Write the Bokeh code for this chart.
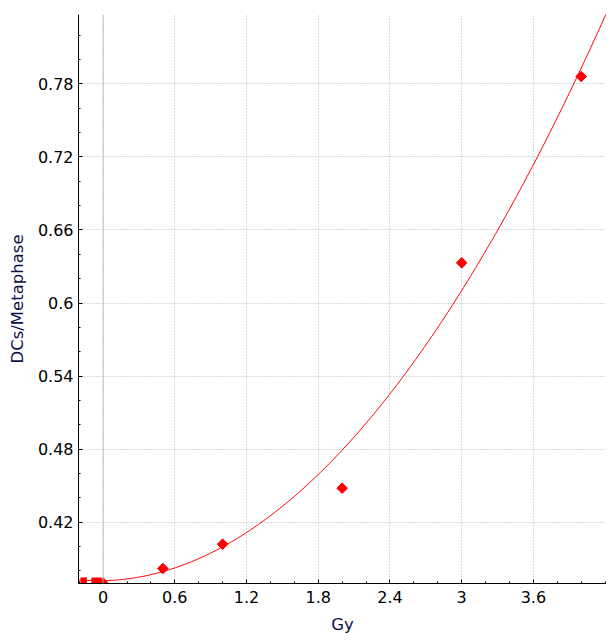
import numpy as np
from bokeh.plotting import figure
from bokeh.models import FixedTicker, CustomJSTickFormatter, Span, Range1d
from bokeh.embed import file_html
from bokeh.resources import INLINE

# data
dose = [0.0, 0.5, 1.0, 2.0, 3.0, 4.0]
dcs = [0.370, 0.382, 0.402, 0.448, 0.633, 0.786]

# fitted curve y = c + a*D + b*D^2 (coefficients)
fit_c = 0.372
fit_a = 0.002
fit_b = 0.0258

# red fragments at the bottom-left edge
frag_left = [-0.19, -0.098]
frag_right = [-0.135, -0.012]

x_ticks = [0, 0.6, 1.2, 1.8, 2.4, 3, 3.6]
y_ticks = [0.42, 0.48, 0.54, 0.6, 0.66, 0.72, 0.78]

x_lo, x_hi = -0.206, 4.212
y_lo, y_hi = 0.3697, 0.8369

p = figure(frame_width=528, frame_height=569, output_backend="svg", toolbar_location=None,
           x_range=Range1d(x_lo, x_hi), y_range=Range1d(y_lo, y_hi),
           min_border_left=78, min_border_right=0, min_border_top=14, min_border_bottom=40)
p.outline_line_color = None
p.background_fill_color = "white"
p.border_fill_color = "white"

fmt = CustomJSTickFormatter(code="return String(Math.round(tick*100)/100);")
xminor = [round(-0.2 + 0.2 * i, 2) for i in range(23)]
yminor = [round(0.36 + 0.02 * i, 2) for i in range(25)]
p.xaxis.ticker = FixedTicker(ticks=x_ticks, minor_ticks=xminor)
p.yaxis.ticker = FixedTicker(ticks=y_ticks, minor_ticks=yminor)
p.xaxis.formatter = fmt
p.yaxis.formatter = fmt

for ax in (p.xaxis[0], p.yaxis[0]):
    ax.axis_line_color = "black"
    ax.major_tick_line_color = "black"
    ax.minor_tick_line_color = "black"
    ax.major_tick_in = 4
    ax.major_tick_out = 0
    ax.minor_tick_in = 2
    ax.minor_tick_out = 0
    ax.major_label_text_font = "DejaVu Sans"
    ax.major_label_text_font_size = "16px"
    ax.major_label_text_color = "black"
    ax.axis_label_text_font = "DejaVu Sans"
    ax.axis_label_text_font_size = "16.5px"
    ax.axis_label_text_font_style = "normal"
    ax.axis_label_text_color = "#101048"

p.xaxis.axis_label = "Gy"
p.yaxis.axis_label = "DCs/Metaphase"
p.xaxis.major_label_standoff = 7
p.yaxis.major_label_standoff = 5
p.xaxis.axis_label_standoff = 9
p.yaxis.axis_label_standoff = 8

p.xgrid.ticker = FixedTicker(ticks=x_ticks)
p.ygrid.ticker = FixedTicker(ticks=y_ticks)
for g in (p.xgrid[0], p.ygrid[0]):
    g.grid_line_color = "#b4b4b4"
    g.grid_line_dash = "1 2"
    g.grid_line_width = 1

p.add_layout(Span(location=0, dimension="height", line_color="#c0c0c0", line_width=1))

xs = np.linspace(x_lo, x_hi, 300)
ys = fit_c + fit_a * xs + fit_b * xs ** 2
p.line(xs, ys, line_color="red", line_width=1)

p.quad(left=frag_left, right=frag_right, bottom=[y_lo - 0.01] * 2, top=[y_lo + 0.005] * 2,
       fill_color="red", line_color=None)

p.scatter(dose, dcs, marker="square", angle=np.pi / 4, size=7.5, fill_color="red", line_color="red")

open("out.html", "w").write(file_html(p, INLINE))
